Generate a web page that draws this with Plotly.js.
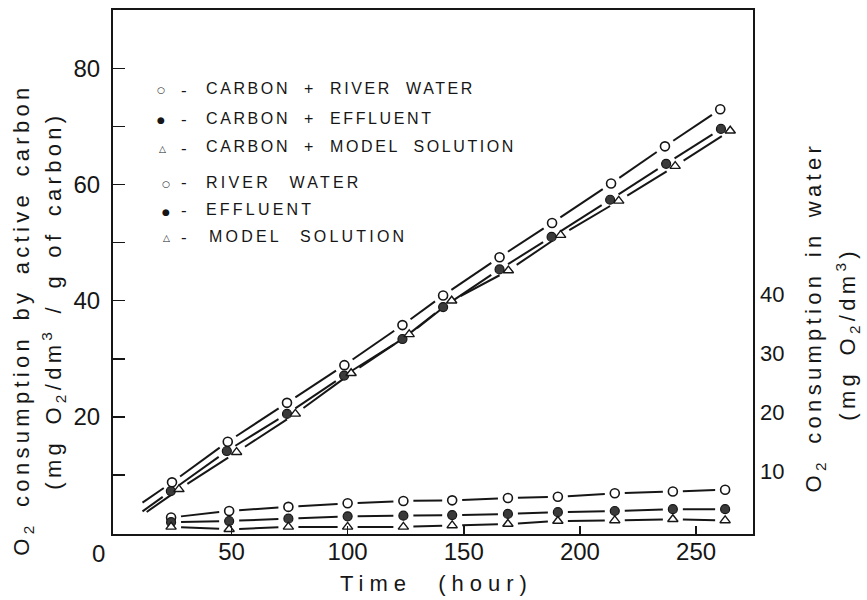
<!DOCTYPE html>
<html><head><meta charset="utf-8">
<script src="https://cdn.plot.ly/plotly-3.0.1.min.js"></script>
<style>html,body{margin:0;padding:0;background:#fff;} #chart{width:867px;height:600px;}</style>
</head><body><div id="chart"></div>
<script>
// ---- Upper group (left axis): O2 consumption by active carbon, mg O2/dm3 / g of carbon ----
const timeCarbonRiver    = [24.4, 48.4, 73.9, 98.6, 123.6, 141.1, 165.4, 188.0, 213.4, 236.6, 260.4];
const carbonRiver        = [8.7, 15.7, 22.4, 28.9, 35.8, 40.9, 47.5, 53.4, 60.2, 66.6, 73.0];
const timeCarbonEffluent = [23.9, 48.0, 73.9, 98.5, 123.6, 141.1, 165.4, 187.8, 213.0, 237.1, 260.7];
const carbonEffluent     = [7.2, 14.1, 20.5, 27.1, 33.4, 38.9, 45.4, 51.0, 57.4, 63.6, 69.6];
const timeCarbonModel    = [27.4, 52.2, 77.5, 101.5, 126.5, 144.8, 169.2, 191.7, 216.7, 241.0, 264.7];
const carbonModel        = [7.5, 13.9, 20.5, 27.5, 34.2, 40.0, 45.2, 51.3, 57.2, 63.2, 69.3];
// start of the fitted lines (extrapolated back)
const fitStartTime  = [11.7, 11.7, 13.5];
const fitStartValue = [5.2, 3.7, 3.6];

// ---- Lower group (right axis): O2 consumption in water, mg O2/dm3 ----
const timeWater     = [24, 49, 74.5, 100, 124, 145, 169, 190.5, 215, 240, 262.5];
const riverWater    = [2.1, 3.2, 3.9, 4.5, 4.9, 5.0, 5.4, 5.6, 6.2, 6.5, 6.8];
const effluent      = [1.3, 1.5, 1.9, 2.3, 2.4, 2.5, 2.7, 3.0, 3.2, 3.5, 3.5];
const modelSolution = [0.5, 0.1, 0.5, 0.5, 0.5, 0.75, 1.0, 1.5, 1.6, 1.8, 1.6];

// ---- Ticks and labels ----
const xTickVals = [50, 100, 150, 200, 250];
const yLeftTickVals = [20, 40, 60, 80];
const yLeftMinorVals = [10, 30, 50, 70];
const yRightTickVals = [10, 20, 30, 40];
const legendSymbols = ['○', '●', '△', '○', '●', '△'];
const legendLabels = ['CARBON + RIVER WATER', 'CARBON + EFFLUENT', 'CARBON + MODEL SOLUTION',
                      'RIVER WATER', 'EFFLUENT', 'MODEL SOLUTION'];
const xTitle = 'Time (hour)';
const yLeftTitle1 = 'O<sub>2</sub> consumption by active carbon';
const yLeftTitle2 = '(mg O<sub>2</sub>/dm<sup>3</sup> / g of carbon)';
const yRightTitle1 = 'O<sub>2</sub> consumption in water';
const yRightTitle2 = '(mg O<sub>2</sub>/dm<sup>3</sup>)';

const INK = '#161616';
const FONT = 'Liberation Sans, Arial, sans-serif';

// axis setup (ranges) and plot-area size in px
const X_RANGE = [-1, 274.5];
const YL_RANGE = [-0.2, 90.1];
const YR_RANGE = [-0.7, 88.1];
const PLOT_W = 640, PLOT_H = 524;
const GAP_PX = 10; // the drawn lines stop short of each marker by this many px

// Break a polyline into segments that stop short of every data point (as in the original drawing).
function gappedLine(xs, ys, yr, leadIdx) {
  const sx = PLOT_W / (X_RANGE[1] - X_RANGE[0]);
  const sy = PLOT_H / (yr[1] - yr[0]);
  const ox = [], oy = [];
  for (let i = 0; i < xs.length - 1; i++) {
    const dx = (xs[i + 1] - xs[i]) * sx, dy = (ys[i + 1] - ys[i]) * sy;
    const d = Math.sqrt(dx * dx + dy * dy);
    const a = (i === leadIdx) ? 0 : GAP_PX, b = GAP_PX;
    if (d <= a + b) continue;
    const fa = a / d, fb = 1 - b / d;
    ox.push(xs[i] + (xs[i + 1] - xs[i]) * fa, xs[i] + (xs[i + 1] - xs[i]) * fb, null);
    oy.push(ys[i] + (ys[i + 1] - ys[i]) * fa, ys[i] + (ys[i + 1] - ys[i]) * fb, null);
  }
  return {x: ox, y: oy};
}
function lineTr(xs, ys, ax, yr, leadX, leadY) {
  const hasLead = leadX !== undefined;
  const X = hasLead ? [leadX].concat(xs) : xs;
  const Y = hasLead ? [leadY].concat(ys) : ys;
  const g = gappedLine(X, Y, yr, hasLead ? 0 : -1);
  return {x: g.x, y: g.y, yaxis: ax, mode: 'lines', connectgaps: false,
          line: {color: INK, width: 2}, hoverinfo: 'skip', showlegend: false};
}
function openCircle() { return {symbol: 'circle', size: 9, color: '#ffffff', line: {color: INK, width: 1.6}}; }
function filledCircle() { return {symbol: 'circle', size: 9, color: '#3a3a3a', line: {color: INK, width: 1.2}}; }
function openTriangle() { return {symbol: 'triangle-up', size: 9, color: '#ffffff', line: {color: INK, width: 1.4}}; }
function markTr(x, y, ax, m, name) {
  return {x: x, y: y, yaxis: ax, mode: 'markers', marker: m, name: name, showlegend: false};
}

const data = [
  lineTr(timeCarbonRiver, carbonRiver, 'y', YL_RANGE, fitStartTime[0], fitStartValue[0]),
  lineTr(timeCarbonEffluent, carbonEffluent, 'y', YL_RANGE, fitStartTime[1], fitStartValue[1]),
  lineTr(timeCarbonModel, carbonModel, 'y', YL_RANGE, fitStartTime[2], fitStartValue[2]),
  markTr(timeCarbonRiver, carbonRiver, 'y', openCircle(), legendLabels[0]),
  markTr(timeCarbonEffluent, carbonEffluent, 'y', filledCircle(), legendLabels[1]),
  markTr(timeCarbonModel, carbonModel, 'y', openTriangle(), legendLabels[2]),
  lineTr(timeWater, riverWater, 'y2', YR_RANGE),
  lineTr(timeWater, effluent, 'y2', YR_RANGE),
  lineTr(timeWater, modelSolution, 'y2', YR_RANGE),
  markTr(timeWater, riverWater, 'y2', openCircle(), legendLabels[3]),
  markTr(timeWater, effluent, 'y2', filledCircle(), legendLabels[4]),
  markTr(timeWater, modelSolution, 'y2', openTriangle(), legendLabels[5])
];

// plot area: x 113..753 px, y 10..534 px
function px(x) { return (x - 113) / 640; }
function py(y) { return (534 - y) / 524; }

const annotations = [];
const annStyle = [];
function ann(o, style) { annotations.push(o); annStyle.push(style || null); }

ann({xref: 'paper', yref: 'paper', x: px(98), y: py(553), text: '0', showarrow: false,
     xanchor: 'center', yanchor: 'middle', font: {family: FONT, size: 24, color: INK}});
ann({xref: 'paper', yref: 'paper', x: px(436), y: py(583), text: xTitle, showarrow: false,
     xanchor: 'center', yanchor: 'middle', font: {family: FONT, size: 22, color: INK}},
    {ls: '6px', ws: '14px'});
ann({xref: 'paper', yref: 'paper', x: px(23), y: py(320), text: yLeftTitle1, showarrow: false,
     textangle: -90, xanchor: 'center', yanchor: 'middle', font: {family: FONT, size: 22, color: INK}},
    {ls: '4.3px', ws: '4px'});
ann({xref: 'paper', yref: 'paper', x: px(53), y: py(301), text: yLeftTitle2, showarrow: false,
     textangle: -90, xanchor: 'center', yanchor: 'middle', font: {family: FONT, size: 22, color: INK}},
    {ls: '4.3px', ws: '4px'});
ann({xref: 'paper', yref: 'paper', x: px(815), y: py(317), text: yRightTitle1, showarrow: false,
     textangle: -90, xanchor: 'center', yanchor: 'middle', font: {family: FONT, size: 22, color: INK}},
    {ls: '4.3px', ws: '4px'});
ann({xref: 'paper', yref: 'paper', x: px(847), y: py(334), text: yRightTitle2, showarrow: false,
     textangle: -90, xanchor: 'center', yanchor: 'middle', font: {family: FONT, size: 22, color: INK}},
    {ls: '4.3px', ws: '4px'});

const rowY = [89, 118.5, 147, 182, 210, 236.5];
const symX = [161, 161, 162, 166, 166, 166];
for (let i = 0; i < 6; i++) {
  ann({xref: 'paper', yref: 'paper', x: px(symX[i]), y: py(rowY[i] + 1.5), text: legendSymbols[i],
       showarrow: false, xanchor: 'center', yanchor: 'middle',
       font: {family: 'DejaVu Sans', size: 9, color: INK}});
  ann({xref: 'paper', yref: 'paper', x: px(183.5), y: py(rowY[i] + 1), text: '-',
       showarrow: false, xanchor: 'center', yanchor: 'middle',
       font: {family: FONT, size: 17, color: INK}});
  ann({xref: 'paper', yref: 'paper', x: px(i === 5 ? 207 : 204), y: py(rowY[i]), text: legendLabels[i],
       showarrow: false, xanchor: 'left', yanchor: 'middle', align: 'left',
       font: {family: FONT, size: 16, color: INK}},
      {ls: (i < 3 ? '2.6px' : '3.2px'), ws: (i < 3 ? '7px' : '11px')});
}

const layout = {
  width: 867, height: 600,
  margin: {l: 113, r: 114, t: 10, b: 66, pad: 0},
  paper_bgcolor: '#ffffff', plot_bgcolor: '#ffffff',
  showlegend: false,
  xaxis: {range: X_RANGE, tickvals: xTickVals, ticks: 'inside', ticklen: 8, tickwidth: 1.5,
          tickcolor: INK, showline: true, mirror: true, linewidth: 2, linecolor: INK,
          showgrid: false, zeroline: false, ticklabelstandoff: -5,
          tickfont: {family: FONT, size: 24, color: INK}},
  yaxis: {range: YL_RANGE, tickvals: yLeftTickVals,
          ticks: 'inside', ticklen: 12, tickwidth: 1.5, tickcolor: INK,
          minor: {tickvals: yLeftMinorVals, ticks: 'inside', ticklen: 12, tickwidth: 1.5, tickcolor: INK, showgrid: false},
          showline: true, mirror: true, linewidth: 2, linecolor: INK,
          showgrid: false, zeroline: false, ticklabelstandoff: 6,
          tickfont: {family: FONT, size: 24, color: INK}},
  yaxis2: {overlaying: 'y', side: 'right', range: YR_RANGE, tickvals: yRightTickVals,
           ticks: '', showline: false, showgrid: false, zeroline: false, ticklabelstandoff: 6,
           tickfont: {family: FONT, size: 22, color: INK}},
  annotations: annotations
};

Plotly.newPlot('chart', data, layout, {staticPlot: true, displayModeBar: false}).then(function (gd) {
  gd.querySelectorAll('g.annotation').forEach(function (g) {
    const i = +g.getAttribute('data-index');
    const st = annStyle[i];
    if (!st) return;
    const t = g.querySelector('text.annotation-text');
    if (t) { t.style.letterSpacing = st.ls; t.style.wordSpacing = st.ws; }
  });
});
</script>
</body></html>
